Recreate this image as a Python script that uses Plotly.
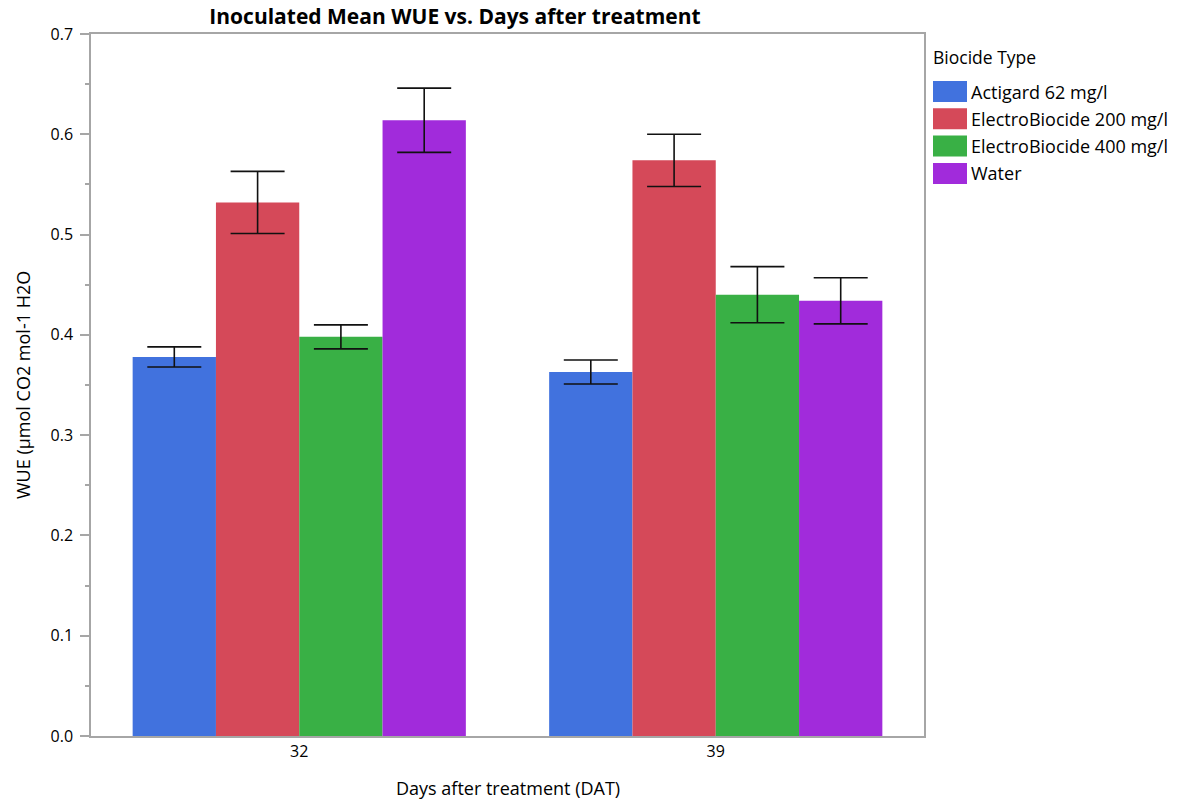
import plotly.graph_objects as go

# Days after treatment (categories) and biocide groups
days = ["32", "39"]
biocides = ["Actigard 62 mg/l", "ElectroBiocide 200 mg/l", "ElectroBiocide 400 mg/l", "Water"]
colors = ["#4172DE", "#D54959", "#39B045", "#A12BDB"]

# Mean WUE per biocide, for day 32 and day 39
actigard = [0.378, 0.363]
electro200 = [0.532, 0.574]
electro400 = [0.398, 0.440]
water = [0.614, 0.434]

# Error bar half-widths
actigard_err = [0.010, 0.012]
electro200_err = [0.031, 0.026]
electro400_err = [0.012, 0.028]
water_err = [0.032, 0.023]

means = [actigard, electro200, electro400, water]
errs = [actigard_err, electro200_err, electro400_err, water_err]

FONT = "Open Sans, Noto Sans, sans-serif"

fig = go.Figure()
for name, color, m, e in zip(biocides, colors, means, errs):
    fig.add_trace(go.Bar(
        x=days, y=m, name=name, marker=dict(color=color, line=dict(width=0)),
        error_y=dict(type="data", array=e, visible=True, color="#111111",
                     thickness=1.6, width=27),
        showlegend=False,
    ))

# Plot-area geometry in pixels (used for placing legend and titles in paper units)
L, R, T, B = 91, 924, 34, 736
W, H = R - L, B - T

def px_x(x):
    return (x - L) / W

def px_y(y):
    return (B - y) / H

shapes = []
annotations = [
    dict(text="Biocide Type", x=px_x(931), y=px_y(57), xref="paper", yref="paper",
         xanchor="left", yanchor="middle", showarrow=False,
         font=dict(family=FONT, size=17.5, color="#000000")),
    dict(text="Days after treatment (DAT)", x=0.5, y=px_y(788),
         xref="paper", yref="paper", xanchor="center", yanchor="middle",
         showarrow=False, font=dict(family=FONT, size=18, color="#000000")),
    dict(text="WUE (µmol CO2 mol-1 H2O", x=px_x(23), y=0.5, textangle=-90,
         xref="paper", yref="paper", xanchor="center", yanchor="middle",
         showarrow=False, font=dict(family=FONT, size=18, color="#000000")),
]
for i, (name, color) in enumerate(zip(biocides, colors)):
    top = 81 + i * 27.3
    shapes.append(dict(type="rect", xref="paper", yref="paper",
                       x0=px_x(933), x1=px_x(967), y0=px_y(top), y1=px_y(top + 21),
                       fillcolor=color, line=dict(width=0)))
    annotations.append(dict(
        text=name, x=px_x(969), y=px_y(top + 10.5), xref="paper", yref="paper",
        xanchor="left", yanchor="middle", showarrow=False,
        font=dict(family=FONT, size=18, color="#000000"),
    ))

fig.update_layout(
    width=1180, height=801,
    margin=dict(l=L, r=1180 - R, t=T, b=801 - B),
    paper_bgcolor="white", plot_bgcolor="white",
    barmode="group", bargap=0.2, bargroupgap=0,
    title=dict(text="<b>Inoculated Mean WUE vs. Days after treatment</b>",
               x=455 / 1180, xref="container", xanchor="center",
               y=1 - 17 / 801, yref="container", yanchor="middle",
               font=dict(family=FONT, size=21, color="#000000")),
    font=dict(family=FONT, size=16, color="#000000"),
    shapes=shapes, annotations=annotations,
)

fig.update_xaxes(
    type="category", showgrid=False, ticks="", showline=True, mirror=True,
    linecolor="#A6A6A6", linewidth=1.5, automargin=False,
    tickfont=dict(family=FONT, size=16),
)
fig.update_yaxes(
    range=[0, 0.7], dtick=0.1, tickformat=".1f", showgrid=False, zeroline=False,
    showline=True, mirror=True, linecolor="#A6A6A6", linewidth=1.5, automargin=False,
    ticks="outside", ticklen=9, tickcolor="#A6A6A6", tickwidth=1.5,
    ticklabelstandoff=4,
    minor=dict(dtick=0.05, ticks="outside", ticklen=4, tickcolor="#A6A6A6"),
    tickfont=dict(family=FONT, size=16),
)

fig.write_html("out.html")
